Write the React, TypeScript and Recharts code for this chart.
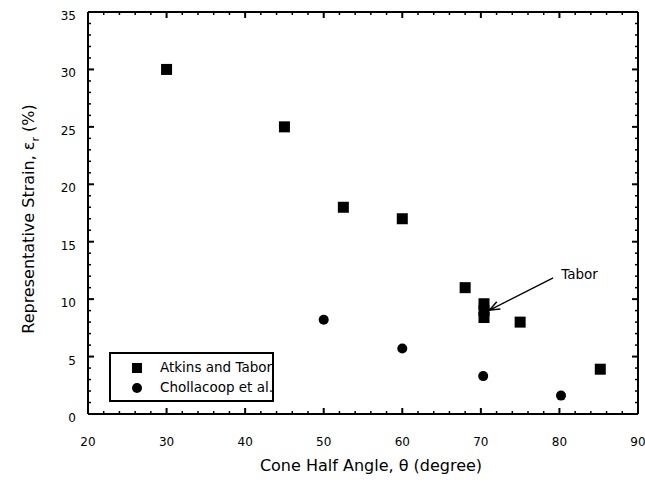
import React from 'react';
import { ScatterChart, Scatter, XAxis, YAxis, ReferenceLine } from 'recharts';

// Atkins and Tabor (squares)
const atkinsTabor = [
  { x: 30, y: 30 },
  { x: 45, y: 25 },
  { x: 52.5, y: 18 },
  { x: 60, y: 17 },
  { x: 68, y: 11 },
  { x: 70.4, y: 9.6 },
  { x: 70.4, y: 9.0 },
  { x: 70.4, y: 8.4 },
  { x: 75, y: 8 },
  { x: 85.2, y: 3.9 },
];

// Chollacoop et al. (circles)
const chollacoop = [
  { x: 50, y: 8.2 },
  { x: 60, y: 5.7 },
  { x: 70.3, y: 3.3 },
  { x: 80.2, y: 1.6 },
];

const xTicks = [20, 22, 24, 26, 28, 30, 32, 34, 36, 38, 40, 42, 44, 46, 48, 50, 52, 54, 56, 58,
  60, 62, 64, 66, 68, 70, 72, 74, 76, 78, 80, 82, 84, 86, 88, 90];
const yTicks = [0, 1, 2, 3, 4, 5, 6, 7, 8, 9, 10, 11, 12, 13, 14, 15, 16, 17, 18, 19, 20,
  21, 22, 23, 24, 25, 26, 27, 28, 29, 30, 31, 32, 33, 34, 35];

// arrow for the "Tabor" note: tail, head
const taborArrow = [
  { x: 79.2, y: 11.85 },
  { x: 71.1, y: 9.05 },
];

const FONT = '"DejaVu Sans", Arial, sans-serif';

const BottomTick = ({ x, y, payload }: any) => {
  const major = payload.value % 10 === 0;
  return (
    <g>
      <line x1={x} x2={x} y1={y} y2={y - (major ? 6 : 3)} stroke="#000" strokeWidth={major ? 2 : 1.5} />
      {major && (
        <text x={x} y={y + 32} textAnchor="middle" fontFamily={FONT} fontSize={12} fill="#000">
          {payload.value}
        </text>
      )}
    </g>
  );
};

const TopTick = ({ x, y, payload }: any) => {
  const major = payload.value % 10 === 0;
  return <line x1={x} x2={x} y1={y} y2={y + (major ? 6 : 3)} stroke="#000" strokeWidth={major ? 2 : 1.5} />;
};

const LeftTick = ({ x, y, payload }: any) => {
  const major = payload.value % 5 === 0;
  return (
    <g>
      <line x1={x} x2={x + (major ? 6 : 3)} y1={y} y2={y} stroke="#000" strokeWidth={major ? 2 : 1.5} />
      {major && (
        <text x={x - 12} y={y + 8} textAnchor="end" fontFamily={FONT} fontSize={12} fill="#000">
          {payload.value}
        </text>
      )}
    </g>
  );
};

const RightTick = ({ x, y, payload }: any) => {
  const major = payload.value % 5 === 0;
  return <line x1={x} x2={x - (major ? 6 : 3)} y1={y} y2={y} stroke="#000" strokeWidth={major ? 2 : 1.5} />;
};

const XTitle = ({ viewBox }: any) => (
  <text x={viewBox.x + viewBox.width / 2 + 8} y={viewBox.y + 57} textAnchor="middle"
    fontFamily={FONT} fontSize={16} fill="#000">
    Cone Half Angle, θ (degree)
  </text>
);

const YTitle = ({ viewBox }: any) => {
  const cx = 34;
  const cy = viewBox.y + viewBox.height / 2 + 6;
  return (
    <text transform={`rotate(-90 ${cx} ${cy})`} x={cx} y={cy} textAnchor="middle"
      fontFamily={FONT} fontSize={16} fill="#000">
      Representative Strain, ε<tspan dy={5} fontSize={11}>r</tspan><tspan dy={-5}> (%)</tspan>
    </text>
  );
};

const ArrowNote = (props: any) => {
  const { x1, y1, x2, y2 } = props;
  const ang = Math.atan2(y2 - y1, x2 - x1);
  const len = 11;
  const spread = 0.38;
  const ax = x2 - len * Math.cos(ang - spread);
  const ay = y2 - len * Math.sin(ang - spread);
  const bx = x2 - len * Math.cos(ang + spread);
  const by = y2 - len * Math.sin(ang + spread);
  return (
    <g>
      <line x1={x1} y1={y1} x2={x2} y2={y2} stroke="#000" strokeWidth={1.3} />
      <polyline points={`${ax},${ay} ${x2},${y2} ${bx},${by}`} fill="none" stroke="#000" strokeWidth={1.5} />
      <text x={x1 + 8} y={y1 + 1} fontFamily={FONT} fontSize={13.5} fill="#000">Tabor</text>
    </g>
  );
};

const squareShape = ({ cx, cy }: any) => <rect x={cx - 5.5} y={cy - 5.5} width={11} height={11} fill="#000" />;
const circleShape = ({ cx, cy }: any) => <circle cx={cx} cy={cy} r={5} fill="#000" />;

export default function App() {
  return (
    <div style={{ position: 'absolute', left: 0, top: 0, width: 645, height: 490, background: '#fff' }}>
      <ScatterChart width={645} height={490} margin={{ top: 11, right: 6, bottom: 0, left: 0 }}>
        <XAxis xAxisId={0} type="number" dataKey="x" domain={[20, 90]} ticks={xTicks} interval={0}
          height={76} tickSize={0} tickMargin={0} tick={<BottomTick />} tickLine={false}
          axisLine={{ stroke: '#000', strokeWidth: 2 }} allowDataOverflow label={<XTitle />} />
        <XAxis xAxisId="top" orientation="top" type="number" dataKey="x" domain={[20, 90]} ticks={xTicks} interval={0}
          height={1} tickSize={0} tickMargin={0} tick={<TopTick />} tickLine={false}
          axisLine={{ stroke: '#000', strokeWidth: 2 }} allowDataOverflow />
        <YAxis yAxisId={0} type="number" dataKey="y" domain={[0, 35]} ticks={yTicks} interval={0}
          width={88} tickSize={0} tickMargin={0} tick={<LeftTick />} tickLine={false}
          axisLine={{ stroke: '#000', strokeWidth: 2 }} allowDataOverflow label={<YTitle />} />
        <YAxis yAxisId="right" orientation="right" type="number" dataKey="y" domain={[0, 35]} ticks={yTicks} interval={0}
          width={1} tickSize={0} tickMargin={0} tick={<RightTick />} tickLine={false}
          axisLine={{ stroke: '#000', strokeWidth: 2 }} allowDataOverflow />
        <Scatter name="Atkins and Tabor" data={atkinsTabor} shape={squareShape} isAnimationActive={false} />
        <Scatter name="Chollacoop et al." data={chollacoop} shape={circleShape} isAnimationActive={false} />
        <Scatter name="frame" data={chollacoop} xAxisId="top" yAxisId="right" shape={() => <g />}
          legendType="none" isAnimationActive={false} />
        <ReferenceLine segment={taborArrow} shape={ArrowNote} ifOverflow="visible" />
      </ScatterChart>
      <div style={{
        position: 'absolute', left: 109, top: 352, width: 165, height: 50, boxSizing: 'border-box',
        border: '2px solid #000', overflow: 'hidden', background: '#fff',
        fontFamily: FONT, fontSize: 13.5, color: '#000',
      }}>
        <div style={{ position: 'absolute', left: 21, top: 9, width: 10, height: 10, background: '#000' }} />
        <div style={{ position: 'absolute', left: 49, top: 5, whiteSpace: 'nowrap', lineHeight: '17px' }}>Atkins and Tabor</div>
        <div style={{ position: 'absolute', left: 21, top: 29, width: 10, height: 10, borderRadius: 5, background: '#000' }} />
        <div style={{ position: 'absolute', left: 49, top: 25, whiteSpace: 'nowrap', lineHeight: '17px' }}>Chollacoop et al.</div>
      </div>
    </div>
  );
}
